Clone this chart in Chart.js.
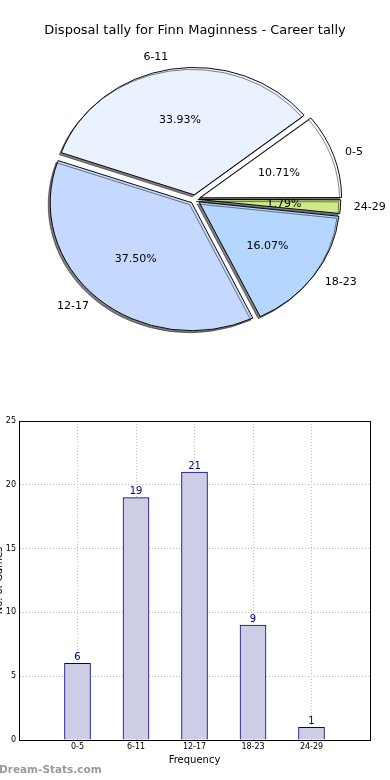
<!DOCTYPE html>
<html>
<head>
<meta charset="utf-8">
<script src="https://cdn.jsdelivr.net/npm/chart.js@4.4.1/dist/chart.umd.min.js"></script>
<style>
  body { margin: 0; background: #fff; width: 390px; height: 780px; overflow: hidden; position: relative; font-family: "DejaVu Sans", sans-serif; }
  #pieBox { position: absolute; left: 0; top: 0; width: 390px; height: 390px; }
  #barBox { position: absolute; left: -10px; top: 400px; width: 400px; height: 380px; }
  .mark { position: absolute; left: -1px; top: 763px; font: bold 10.5px "DejaVu Sans", sans-serif; color: #9a9a9a; }
</style>
</head>
<body>
<div id="pieBox"><canvas id="pie"></canvas></div>
<div id="barBox"><canvas id="bar"></canvas></div>
<div class="mark">Dream-Stats.com</div>
<script>
// data
const categories = ['0-5', '6-11', '12-17', '18-23', '24-29'];
const games = [6, 19, 21, 9, 1];
const percents = ['10.71%', '33.93%', '37.50%', '16.07%', '1.79%'];
const sliceColors = ['#ffffff', '#ebf2ff', '#c5d9ff', '#b4d6ff', '#cde98a'];
const explode = [20, 20, 20, 20, 12];
const yTicks = [0, 5, 10, 15, 20, 25];

Chart.defaults.font.family = '"DejaVu Sans", sans-serif';
Chart.defaults.color = '#000';

// matplotlib draws counter-clockwise from 3 o'clock, chart.js goes clockwise -> reverse
const rev = a => a.slice().reverse();
const SQUASH = 0.905; // pie is an ellipse in the original

const ellipsePlugin = {
  id: 'ellipse',
  beforeDatasetsDraw(chart) {
    const arc = chart.getDatasetMeta(0).data[0];
    const ctx = chart.ctx;
    ctx.save();
    ctx.translate(arc.x, arc.y);
    ctx.scale(1, SQUASH);
    ctx.translate(-arc.x, -arc.y);
    ctx.shadowColor = 'rgba(0,0,0,0.5)';
    ctx.shadowOffsetX = -2;
    ctx.shadowOffsetY = 2;
    ctx.shadowBlur = 0;
  },
  afterDatasetsDraw(chart) {
    const ctx = chart.ctx;
    ctx.restore();
    const arcs = chart.getDatasetMeta(0).data;
    const labs = rev(categories);
    const pct = rev(percents);
    ctx.save();
    ctx.font = '11px "DejaVu Sans"';
    ctx.fillStyle = '#000';
    ctx.textBaseline = 'middle';
    arcs.forEach(function(a, i) {
      const mid = (a.startAngle + a.endAngle) / 2;
      const off = 5;
      const r = a.outerRadius;
      const cx = a.x + Math.cos(mid) * off;
      const cy = a.y + Math.sin(mid) * off * SQUASH;
      const lx = cx + 1.1 * r * Math.cos(mid);
      const ly = cy + 1.1 * r * Math.sin(mid) * SQUASH;
      ctx.textAlign = Math.cos(mid) > 0 ? 'left' : 'right';
      ctx.fillText(labs[i], lx, ly);
      ctx.textAlign = 'center';
      ctx.fillText(pct[i], cx + 0.6 * r * Math.cos(mid), cy + 0.6 * r * Math.sin(mid) * SQUASH);
    });
    ctx.restore();
  }
};

new Chart('pie', {
  type: 'pie',
  data: {
    labels: rev(categories),
    datasets: [{
      data: rev(games),
      backgroundColor: rev(sliceColors),
      borderColor: '#000',
      borderWidth: 1,
      offset: rev(explode),
      hoverOffset: 20,
      radius: 140
    }]
  },
  options: {
    responsive: true,
    maintainAspectRatio: false,
    animation: false,
    events: [],
    rotation: 90,
    layout: { padding: { top: 0, bottom: 30, left: 0, right: 0 } },
    plugins: {
      legend: { display: false },
      tooltip: { enabled: false },
      title: {
        display: true,
        text: 'Disposal tally for Finn Maginness - Career tally',
        font: { size: 13, weight: 'normal' },
        color: '#000',
        padding: { top: 23, bottom: 0 }
      }
    }
  },
  plugins: [ellipsePlugin]
});

// bar chart
const framePlugin = {
  id: 'frame',
  afterDraw(chart) {
    const ctx = chart.ctx, a = chart.chartArea;
    ctx.save();
    ctx.strokeStyle = '#000';
    ctx.lineWidth = 1;
    ctx.strokeRect(Math.round(a.left) + 0.5, Math.round(a.top) + 0.5, Math.round(a.right - a.left), Math.round(a.bottom - a.top));
    // bar values
    const meta = chart.getDatasetMeta(0);
    ctx.fillStyle = '#000080';
    ctx.font = '10px "DejaVu Sans"';
    ctx.textAlign = 'center';
    ctx.textBaseline = 'bottom';
    meta.data.forEach(function(b, i) {
      ctx.fillText(String(games[i]), b.x, b.y - 1);
    });
    ctx.restore();
  }
};

new Chart('bar', {
  type: 'bar',
  data: {
    datasets: [{
      data: games.map((v, i) => ({ x: i + 1, y: v })),
      backgroundColor: '#cdcde5',
      borderColor: '#000080',
      borderWidth: 1,
      barThickness: 26
    }]
  },
  options: {
    responsive: true,
    maintainAspectRatio: false,
    animation: false,
    events: [],
    layout: { padding: { top: 21, right: 20, left: 0, bottom: 14 } },
    plugins: { legend: { display: false }, tooltip: { enabled: false } },
    scales: {
      x: {
        type: 'linear',
        offset: false,
        min: 0,
        max: categories.length + 1,
        afterBuildTicks(scale) {
          scale.ticks = [0, 1, 2, 3, 4, 5, 6].map(v => ({ value: v }));
        },
        ticks: {
          font: { size: 8 },
          color: '#000',
          padding: 2,
          maxRotation: 0,
          autoSkip: false,
          callback: v => categories[v - 1] || ''
        },
        grid: { color: '#bbb', drawTicks: false, offset: false },
        border: { dash: [1, 2], color: '#000' },
        title: { display: true, text: 'Frequency', font: { size: 10 }, color: '#000', padding: { top: 1, bottom: 0 } },
        afterFit(scale) { scale.height = 26; }
      },
      y: {
        min: 0,
        max: 25,
        afterBuildTicks(scale) {
          scale.ticks = yTicks.map(v => ({ value: v }));
        },
        ticks: { font: { size: 8 }, color: '#000', padding: 3 },
        grid: { color: '#bbb', drawTicks: false },
        border: { dash: [1, 2], color: '#000' },
        title: { display: true, text: 'No. of Games', font: { size: 10 }, color: '#000', padding: { top: 3, bottom: 0 } },
        afterFit(scale) { scale.width = 29; }
      }
    }
  },
  plugins: [framePlugin]
});
</script>
</body>
</html>
